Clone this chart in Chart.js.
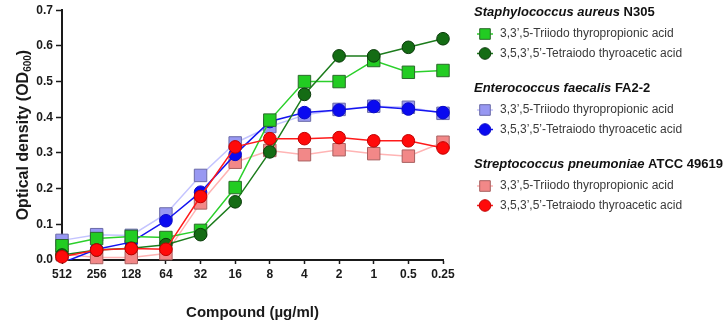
<!DOCTYPE html>
<html>
<head>
<meta charset="utf-8">
<script src="https://cdn.jsdelivr.net/npm/chart.js@4.4.1/dist/chart.umd.min.js"></script>
<style>
  html, body { margin: 0; padding: 0; background: #fff; }
  #wrap { width: 724px; height: 322px; position: relative; }
</style>
</head>
<body>
<div id="wrap"><canvas id="chart" width="724" height="322"></canvas></div>
<script>
// compound concentration (µg/ml), two-fold dilutions
var concentrations = [ '512', '256', '128', '64', '32', '16', '8', '4', '2', '1', '0.5', '0.25' ];
var yTickValues    = [ 0, 0.1, 0.2, 0.3, 0.4, 0.5, 0.6, 0.7 ];

// OD600 per strain / compound
var saureusTriiodo    = [ 0.040, 0.060, 0.066, 0.063, 0.083, 0.203, 0.392, 0.500, 0.500, 0.559, 0.526, 0.531 ];
var saureusTetraiodo  = [ 0.014, 0.028, 0.033, 0.043, 0.071, 0.163, 0.303, 0.464, 0.572, 0.572, 0.596, 0.620 ];
var faecalisTriiodo   = [ 0.055, 0.071, 0.069, 0.129, 0.237, 0.328, 0.374, 0.406, 0.422, 0.431, 0.428, 0.411 ];
var faecalisTetraiodo = [ -0.008, 0.030, 0.050, 0.110, 0.190, 0.296, 0.388, 0.413, 0.420, 0.430, 0.423, 0.413 ];
var pneumoTriiodo     = [ 0.017, 0.007, 0.007, 0.018, 0.160, 0.274, 0.307, 0.295, 0.309, 0.298, 0.291, 0.330 ];
var pneumoTetraiodo   = [ 0.009, 0.028, 0.032, 0.030, 0.178, 0.317, 0.340, 0.340, 0.343, 0.334, 0.334, 0.314 ];

var triiodoName   = '3,3\u2019,5-Triiodo thyropropionic acid';
var tetraiodoName = '3,5,3\u2019,5\u2019-Tetraiodo thyroacetic acid';

var legendGroups = [
    { species: 'Staphylococcus aureus',   strain: 'N305',       sets: [ 0, 1 ] },
    { species: 'Enterococcus faecalis',   strain: 'FA2-2',      sets: [ 2, 3 ] },
    { species: 'Streptococcus pneumoniae', strain: 'ATCC 49619', sets: [ 4, 5 ] }
];

var FONT = '"Liberation Sans", Arial, sans-serif';

function series( label, data, style, line, fill, edge, order ) {
    return {
        label           : label,
        data            : data,
        order           : order,
        clip            : false,
        borderColor     : line,
        borderWidth     : 1.5,
        tension         : 0,
        pointStyle      : style,
        pointRadius     : style === 'rect' ? 8.8 : 6.3,
        pointHoverRadius: style === 'rect' ? 8.8 : 6.3,
        pointBackgroundColor: fill,
        pointBorderColor: edge,
        pointBorderWidth: 1
    };
}

var datasets = [
    series( triiodoName,   saureusTriiodo,    'rect',   '#2bd02b', '#22cc22', '#2a6a2a', 2 ),
    series( tetraiodoName, saureusTetraiodo,  'circle', '#1c7c1c', '#146c14', '#0a3a0a', 1 ),
    series( triiodoName,   faecalisTriiodo,   'rect',   '#c4c4ff', '#9898f2', '#6a6aa8', 4 ),
    series( tetraiodoName, faecalisTetraiodo, 'circle', '#1414f0', '#0a0af0', '#0a0ac8', 3 ),
    series( triiodoName,   pneumoTriiodo,     'rect',   '#ffb4b4', '#f28888', '#a86060', 5 ),
    series( tetraiodoName, pneumoTetraiodo,   'circle', '#ff1a1a', '#ff0a0a', '#c00000', 0 )
];
// the lowest blue point sits under the axis: cut it at the plot edge
datasets[ 3 ].clip = { left: 10, top: 10, right: 10, bottom: 0 };

/** y axis title with a subscript, drawn by hand */
var yTitlePlugin = {
    id: 'yTitle',
    afterDraw: function( chart ) {
        var ctx  = chart.ctx;
        var area = chart.chartArea;
        var main = 'Optical density (OD', sub = '600', tail = ')';
        ctx.save();
        ctx.fillStyle = '#1a1a1a';
        ctx.font = 'bold 16px ' + FONT;
        var wMain = ctx.measureText( main ).width, wTail = ctx.measureText( tail ).width;
        ctx.font = 'bold 10px ' + FONT;
        var wSub = ctx.measureText( sub ).width;
        var total = wMain + wSub + wTail;
        ctx.translate( 28, ( area.top + area.bottom ) / 2 );
        ctx.rotate( -Math.PI / 2 );
        ctx.textBaseline = 'alphabetic';
        ctx.textAlign = 'left';
        var x = -total / 2;
        ctx.font = 'bold 16px ' + FONT;
        ctx.fillText( main, x, 0 );
        ctx.font = 'bold 10px ' + FONT;
        ctx.fillText( sub, x + wMain, 3 );
        ctx.font = 'bold 16px ' + FONT;
        ctx.fillText( tail, x + wMain + wSub, 0 );
        ctx.restore();
    }
};

/** grouped legend at the right */
var legendPlugin = {
    id: 'groupLegend',
    afterDraw: function( chart ) {
        var ctx = chart.ctx;
        var left = 474, y = 12;
        ctx.save();
        ctx.textBaseline = 'middle';
        legendGroups.forEach( function( group ) {
            ctx.fillStyle = '#111';
            ctx.font = 'italic bold 13px ' + FONT;
            ctx.fillText( group.species, left, y );
            var w = ctx.measureText( group.species + ' ' ).width;
            ctx.font = 'bold 13px ' + FONT;
            ctx.fillText( group.strain, left + w, y );
            var iy = y + 22;
            group.sets.forEach( function( i ) {
                var ds = chart.data.datasets[ i ];
                ctx.strokeStyle = ds.borderColor;
                ctx.lineWidth = 1.5;
                ctx.beginPath();
                ctx.moveTo( 477, iy );
                ctx.lineTo( 493, iy );
                ctx.stroke();
                ctx.fillStyle = ds.pointBackgroundColor;
                ctx.strokeStyle = ds.pointBorderColor;
                ctx.lineWidth = 1;
                Chart.helpers.drawPoint( ctx, {
                    pointStyle : ds.pointStyle,
                    radius     : ds.pointStyle === 'rect' ? 7.5 : 5.8,
                    borderWidth: 1,
                    rotation   : 0
                }, 485, iy );
                ctx.fillStyle = '#3a3a3a';
                ctx.font = '12px ' + FONT;
                ctx.fillText( ds.label, 500, iy );
                iy += 19.5;
            });
            y += 76;
        });
        ctx.restore();
    }
};

new Chart( document.getElementById( 'chart' ), {
    type: 'line',
    data: { labels: concentrations, datasets: datasets },
    plugins: [ yTitlePlugin, legendPlugin ],
    options: {
        responsive: false,
        animation: false,
        layout: { padding: { top: 7, right: 281, bottom: 0, left: 0 } },
        plugins: { legend: { display: false }, tooltip: { enabled: false } },
        scales: {
            x: {
                type: 'category',
                offset: false,
                afterFit: function( scale ) { scale.height = 62; },
                border: { color: '#1a1a1a', width: 2 },
                grid: { drawOnChartArea: false, drawTicks: true, tickLength: 4, tickColor: '#1a1a1a', tickWidth: 1.5 },
                ticks: { color: '#1a1a1a', padding: 3, maxRotation: 0, autoSkip: false, font: { family: FONT, size: 12, weight: 'bold' } },
                title: { display: true, text: 'Compound (\u00b5g/ml)', color: '#1a1a1a', padding: { top: 18, bottom: 0 }, font: { family: FONT, size: 15, weight: 'bold' } }
            },
            y: {
                min: 0,
                max: 0.7,
                afterFit: function( scale ) { scale.width = 62; },
                afterBuildTicks: function( scale ) {
                    scale.ticks = yTickValues.map( function( v ) { return { value: v }; } );
                },
                border: { color: '#1a1a1a', width: 2 },
                grid: { drawOnChartArea: false, drawTicks: true, tickLength: 6, tickColor: '#1a1a1a', tickWidth: 1.5 },
                ticks: {
                    color: '#1a1a1a', padding: 3,
                    font: { family: FONT, size: 12, weight: 'bold' },
                    callback: function( v ) { return Number( v ).toFixed( 1 ); }
                }
            }
        }
    }
});
</script>
</body>
</html>
